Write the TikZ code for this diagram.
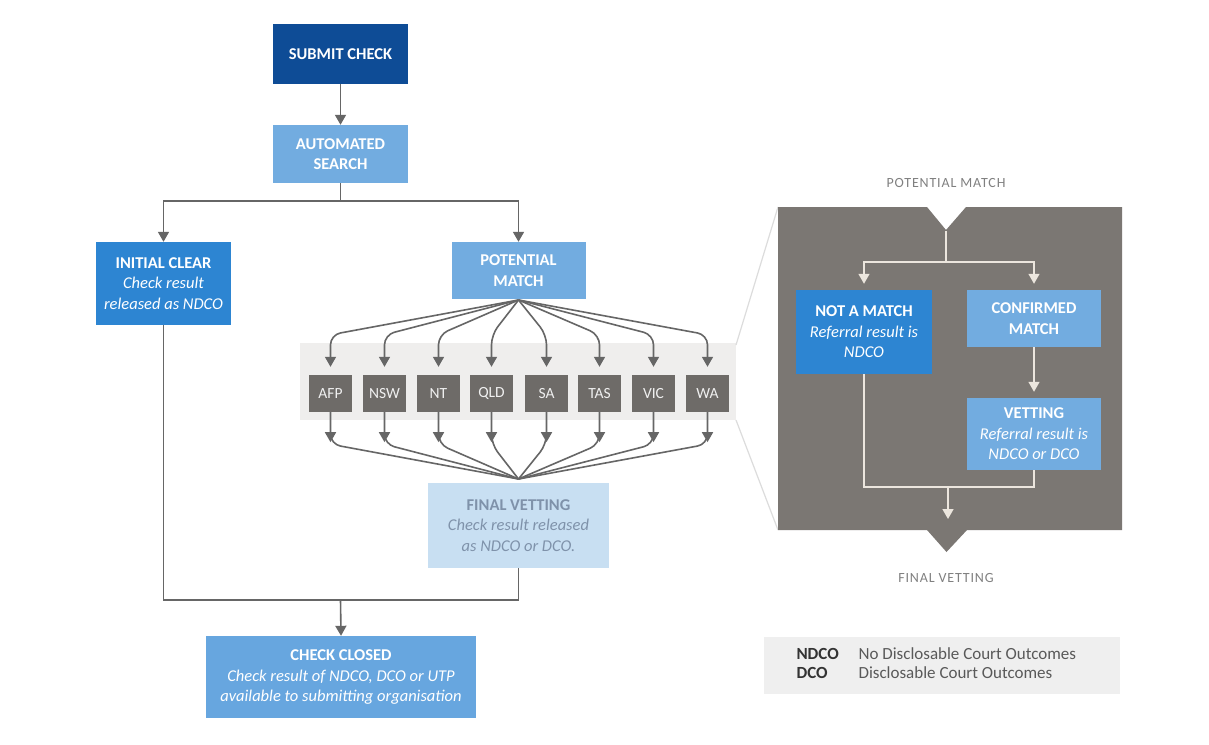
\documentclass[tikz,border=0pt]{standalone}
\usepackage{fontspec}
\setmainfont{Carlito}
\usetikzlibrary{arrows.meta,calc}
\definecolor{dblue}{HTML}{0E4C96}
\definecolor{mblue}{HTML}{2D85D2}
\definecolor{lblue}{HTML}{72ACE0}
\definecolor{cblue}{HTML}{67A6DF}
\definecolor{pblue}{HTML}{C8DFF2}
\definecolor{ptext}{HTML}{7F92AA}
\definecolor{gbox}{HTML}{6E6B68}
\definecolor{gpanel}{HTML}{7B7773}
\definecolor{gband}{HTML}{EFEEED}
\definecolor{lline}{HTML}{666666}
\definecolor{pline}{HTML}{ECE6DE}
\definecolor{zline}{HTML}{DCDCDC}
\definecolor{legbg}{HTML}{EFEFEF}
\tikzset{
  box/.style={rectangle, anchor=center, inner sep=0pt, align=center, text=white,
    font=\fontsize{16.5}{20.5}\selectfont},
  sbox/.style={rectangle, fill=gbox, minimum width=43pt, minimum height=37pt, inner sep=0pt,
    text=white!88!gray, font=\fontsize{15.5}{17}\selectfont},
  conn/.style={draw=lline, line width=1.6pt},
  arr/.style={conn, -{Triangle[width=11pt,length=10pt]}},
  pconn/.style={draw=pline, line width=1.5pt},
  parr/.style={pconn, -{Triangle[width=11pt,length=10pt]}},
  lab/.style={text=gray, font=\fontsize{14}{16}\selectfont\addfontfeature{LetterSpace=6}},
  legk/.style={anchor=west, text=black!80, font=\fontsize{17}{19}\selectfont\bfseries},
  legv/.style={anchor=west, text=black!65, font=\fontsize{17}{19}\selectfont},
}
\begin{document}
\begin{tikzpicture}[x=1pt,y=-1pt]
\useasboundingbox (0,0) rectangle (1209,744);
\fill[white] (0,0) rectangle (1209,744);

% gray band
\fill[gband] (300,343) rectangle (736,420);

% zoom lines
\draw[zline, line width=1.2pt] (736,345) -- (778,207);
\draw[zline, line width=1.2pt] (736,420) -- (778,530);

% main nodes
\node[box, fill=dblue, minimum width=135pt, minimum height=60pt] (submit) at (340.5,54) {\textbf{SUBMIT CHECK}};
\node[box, fill=lblue, minimum width=135pt, minimum height=58pt] (auto) at (340.5,154) {\textbf{AUTOMATED}\\\textbf{SEARCH}};
\node[box, fill=mblue, minimum width=135pt, minimum height=83pt] (init) at (163.5,283.5) {\textbf{INITIAL CLEAR}\\\textit{Check result}\\\textit{released as NDCO}};
\node[box, fill=lblue, minimum width=134pt, minimum height=57pt] (pot) at (518.5,270.5) {\textbf{POTENTIAL}\\\textbf{MATCH}};
\node[box, fill=pblue, text=ptext, minimum width=181pt, minimum height=85pt] (fv) at (518.5,525.5) {\textbf{FINAL VETTING}\\\textit{Check result released}\\\textit{as NDCO or DCO.}};
\node[box, fill=cblue, minimum width=270pt, minimum height=82pt] (closed) at (341,677) {\textbf{CHECK CLOSED}\\\textit{Check result of NDCO, DCO or UTP}\\\textit{available to submitting organisation}};

% jurisdiction boxes
\foreach \n/\t/\x in {b1/AFP/330.5, b2/NSW/384.5, b3/NT/438.5, b4/QLD/491.5, b5/SA/546.5, b6/TAS/599.5, b7/VIC/653.5, b8/WA/707.5}{
  \node[sbox] (\n) at (\x,393.5) {\t};
}

% connectors main
\draw[arr] (submit.south) -- (auto.north);
\coordinate (split) at (340.5,201);
\draw[conn] (auto.south) -- (split);
\draw[arr] (split) -| (init.north);
\draw[arr] (split) -| (pot.north);

\coordinate (fan) at (518.5,300);
\coordinate (conv) at (518.5,479);
\foreach \n in {b1,b2,b3,b4,b5,b6,b7,b8}{
  \draw[arr, rounded corners=10pt] (fan) -- ($(\n.north)+(0,-40)$) -- ($(\n.north)+(0,-8)$);
  \draw[conn, rounded corners=10pt] (\n.south) -- ($(\n.south)+(0,32)$) -- (conv);
  \draw[arr] (\n.south) -- ($(\n.south)+(0,30)$);
}

\coordinate (join) at (340.5,600);
\draw[conn] (init.south) |- (join);
\draw[conn] (fv.south) |- (join);
\draw[arr] (join) -- (closed.north);

% right panel
\fill[gpanel] (778,207) -- (927,207) -- (946,230) -- (966,207) -- (1122,207) -- (1122,530)
  -- (967,530) -- (946.5,552) -- (927,530) -- (778,530) -- cycle;
\node[lab] (plab) at (946,183) {POTENTIAL MATCH};
\node[lab] (flab) at (946,578) {FINAL VETTING};

\node[box, fill=mblue, minimum width=136pt, minimum height=84pt] (nam) at (864,332) {\textbf{NOT A MATCH}\\\textit{Referral result is}\\\textit{NDCO}};
\node[box, fill=lblue, minimum width=134pt, minimum height=57pt] (conf) at (1034,318.5) {\textbf{CONFIRMED}\\\textbf{MATCH}};
\node[box, fill=lblue, minimum width=134pt, minimum height=72pt] (vet) at (1034,434) {\textbf{VETTING}\\\textit{Referral result is}\\\textit{NDCO or DCO}};

\coordinate (ptop) at (946,231);
\coordinate (psplit) at (946,262);
\draw[pconn] (ptop) -- (psplit);
\draw[parr] (psplit) -| ($(nam.north)+(0,-6)$);
\draw[parr] (psplit) -| ($(conf.north)+(0,-6)$);
\draw[parr] (conf.south) -- ($(vet.north)+(0,-6)$);
\coordinate (pjoin) at (948,487);
\draw[pconn] (nam.south) |- (pjoin);
\draw[pconn] (vet.south) |- (pjoin);
\coordinate (pend) at (948,519);
\draw[parr] (pjoin) -- (pend);

% legend
\fill[legbg] (764,637) rectangle (1120,694);
\node[legk] (k1) at (793,654) {NDCO};
\node[legv] (v1) at (855,654) {No Disclosable Court Outcomes};
\node[legk] (k2) at (793,673) {DCO};
\node[legv] (v2) at (855,673) {Disclosable Court Outcomes};
\end{tikzpicture}
\end{document}
